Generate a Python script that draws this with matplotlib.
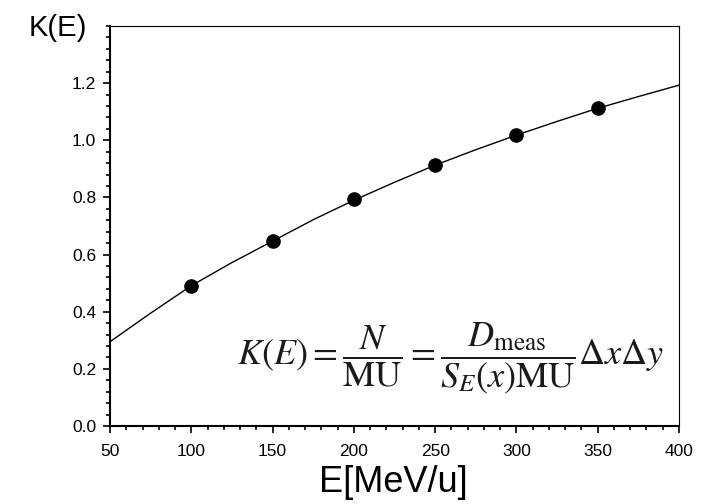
import matplotlib
matplotlib.use("Agg")
import matplotlib.pyplot as plt
from matplotlib.ticker import MultipleLocator

# measured points
energy = [100, 150, 200, 250, 300, 350]
k_meas = [0.491, 0.647, 0.793, 0.913, 1.018, 1.112]

# fitted curve
curve_e = [50, 75, 100, 125, 150, 175, 200, 225, 250, 275, 300, 325, 350, 375, 400]
curve_k = [0.295, 0.395, 0.491, 0.572, 0.647, 0.722, 0.790, 0.853, 0.913, 0.967,
           1.018, 1.066, 1.112, 1.153, 1.193]

x_ticks = [50, 100, 150, 200, 250, 300, 350, 400]
y_ticks = [0.0, 0.2, 0.4, 0.6, 0.8, 1.0, 1.2]


def main():
  plt.rcParams["font.family"] = ["Liberation Sans", "DejaVu Sans"]
  plt.rcParams["mathtext.fontset"] = "stix"

  fig = plt.figure(figsize=(7.12, 5.04), dpi=100)
  ax = fig.add_axes([110 / 712, 1 - 426 / 504, 569 / 712, 400 / 504])

  ax.plot(curve_e, curve_k, color="black", lw=1.0)
  ax.plot(energy, k_meas, "o", color="black", ms=9.5)

  ax.set_xlim(50, 400)
  ax.set_ylim(0, 1.4)
  ax.set_xticks(x_ticks)
  ax.set_yticks(y_ticks)
  ax.set_yticklabels([f"{v:.1f}" for v in y_ticks])
  ax.xaxis.set_minor_locator(MultipleLocator(10))
  ax.yaxis.set_minor_locator(MultipleLocator(0.04))
  ax.tick_params(which="both", direction="out", top=False, right=False,
                 labelsize=12.5, width=1.2)
  ax.tick_params(which="major", length=5, pad=5)
  ax.tick_params(axis="x", which="major", pad=8)
  ax.tick_params(which="minor", length=3)
  ax.spines["left"].set_linewidth(1.5)
  ax.spines["bottom"].set_linewidth(1.5)
  ax.spines["top"].set_linewidth(0.8)
  ax.spines["right"].set_linewidth(0.8)

  fig.text(58 / 712, 1 - 28 / 504, "K(E)", fontsize=21, ha="center", va="center")
  fig.text(393 / 712, 1 - 483 / 504, "E[MeV/u]", fontsize=26, ha="center", va="center")

  ax.text(0.598, 0.17,
          r"$K(E)=\dfrac{N}{\mathrm{MU}}=\dfrac{D_{\mathrm{meas}}}{S_E(x)\mathrm{MU}}\Delta x\Delta y$",
          transform=ax.transAxes, fontsize=26, ha="center", va="center",
          color="#1a1a1a")

  fig.savefig("out.png", dpi=100)


if __name__ == "__main__":
  main()
